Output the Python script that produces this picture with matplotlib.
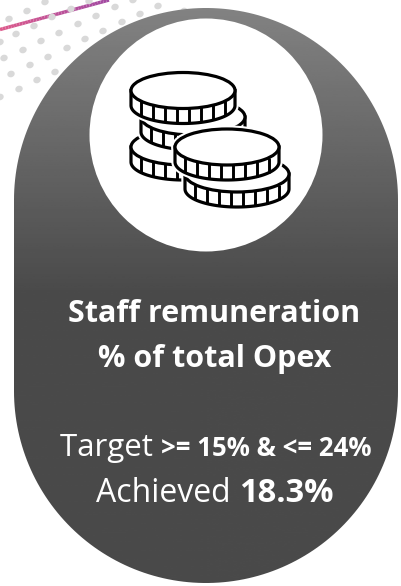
import matplotlib
matplotlib.use("Agg")
import matplotlib.pyplot as plt
import numpy as np
from matplotlib.patches import Circle, Ellipse, Polygon

plt.rcParams['font.family'] = ['Open Sans', 'DejaVu Sans']

# text of the card
title_lines = ["Staff remuneration", "% of total Opex"]
target_runs = [("Target ", "normal", 22.5), (">= 15% & <= 24%", "bold", 18.5)]
achieved_runs = [("Achieved ", "normal", 23), ("18.3%", "bold", 23.5)]

# background dots, pixels
dots_x = [45, 89, 27, 71, 115, 158, 133, 9, 52, 96, 140, 184, 34, 78, 122,
          16, 59, 103, 41, 85, 23, 67, 4, 48, 30, 11, 55, 37, 19, 0, 0]
dots_y = [2, 1, 11, 9, 7, 6, 0, 19, 17, 16, 14, 11, 26, 24, 22,
          34, 33, 31, 41, 39, 50, 48, 58, 57, 65, 74, 72, 80, 89, 97, 42]

# coins back to front: centre x, centre y
coins_x = [183, 193, 183, 237, 227]
coins_y = [147, 117, 90.5, 174, 147]


def draw_coin(ax, cx, cy, rx=52, ry=18, h=15, lw=2.3):
    # white halo so the front coins cut the ones behind
    ts = np.linspace(np.pi, 0, 60)
    body = np.column_stack([cx + rx * np.cos(ts), cy + ry * np.sin(ts) + h])
    outline = np.vstack([[cx - rx, cy], body, [cx + rx, cy]])
    ax.add_patch(Polygon(outline, closed=True, fc='white', ec='white', lw=lw + 3, zorder=3))
    ax.add_patch(Ellipse((cx, cy), 2 * rx, 2 * ry, fc='white', ec='white', lw=lw + 3, zorder=3))
    ax.add_patch(Polygon(outline, closed=True, fc='white', ec='black', lw=lw, zorder=3))
    for x in cx + np.arange(-42, 48, 12):
        y = cy + ry * np.sqrt(1 - ((x - cx) / rx) ** 2)
        ax.plot([x, x], [y, y + h], color='black', lw=lw - 0.2, zorder=3, solid_capstyle='butt')
    ax.add_patch(Ellipse((cx, cy), 2 * rx, 2 * ry, fc='white', ec='black', lw=lw, zorder=3))


# centre a line made of several text runs on cx
def draw_runs(ax, fig, runs, cx, y):
    rend = fig.canvas.get_renderer()
    parts = []
    for s, weight, size in runs:
        t = ax.text(0, y, s, color='white', fontweight=weight, fontsize=size,
                    ha='left', va='baseline', zorder=5)
        parts.append(t)
    widths = [t.get_window_extent(rend).width for t in parts]
    x = cx - sum(widths) / 2
    for t, w in zip(parts, widths):
        t.set_x(x)
        x += w


def main():
    fig = plt.figure(figsize=(4.01, 5.86), dpi=100)
    ax = fig.add_axes([0, 0, 1, 1])

    # pink to purple stroke in the corner
    n = 40
    xs = np.linspace(0, 109, n)
    ys = np.linspace(29.5, 0, n)
    c0 = np.array(matplotlib.colors.to_rgb('#dc5a8c'))
    c1 = np.array(matplotlib.colors.to_rgb('#a24aa2'))
    for i in range(n - 1):
        f = i / (n - 2)
        ax.plot(xs[i:i + 2], ys[i:i + 2], color=c0 + (c1 - c0) * f, lw=2.5, zorder=1,
                solid_capstyle='butt')

    for x, y in zip(dots_x, dots_y):
        ax.add_patch(Ellipse((x, y), 7.5, 6.5, angle=-20, fc='#d9d9d9', ec='none', zorder=1.5))

    # pill with the vertical grey gradient
    r = 192
    left, right, top, bottom = 14, 398, 8, 583
    t_top = np.linspace(np.pi, 2 * np.pi, 120)
    t_bot = np.linspace(0, np.pi, 120)
    pill_xy = np.vstack([
        np.column_stack([left + r + r * np.cos(t_top), top + r + r * np.sin(t_top)]),
        np.column_stack([left + r + r * np.cos(t_bot), bottom - r + r * np.sin(t_bot)]),
    ])
    pill = Polygon(pill_xy, closed=True, fc='none', ec='none', zorder=2)
    ax.add_patch(pill)
    ramp = np.clip(np.linspace(0, 575, 256) / 285, 0, 1)
    grad = (0x82 + (0x4a - 0x82) * ramp).reshape(-1, 1) / 255
    im = ax.imshow(grad, extent=(left, right, bottom, top), cmap='gray', vmin=0, vmax=1,
                   aspect='auto', zorder=2)
    im.set_clip_path(pill)

    ax.set_xlim(0, 401)
    ax.set_ylim(586, 0)
    ax.axis('off')

    ax.add_patch(Circle((206, 135), 116.5, fc='white', ec='none', zorder=2.5))

    for cx, cy in zip(coins_x, coins_y):
        draw_coin(ax, cx, cy)

    fig.canvas.draw()
    ax.text(214.5, 322, title_lines[0], color='white', fontweight='bold', fontsize=22,
            ha='center', va='baseline', zorder=5)
    ax.text(214.5, 367, title_lines[1], color='white', fontweight='bold', fontsize=22,
            ha='center', va='baseline', zorder=5)
    draw_runs(ax, fig, target_runs, 215.5, 456)
    draw_runs(ax, fig, achieved_runs, 215, 502)

    fig.savefig("out.png", dpi=100)


if __name__ == '__main__':
    main()
